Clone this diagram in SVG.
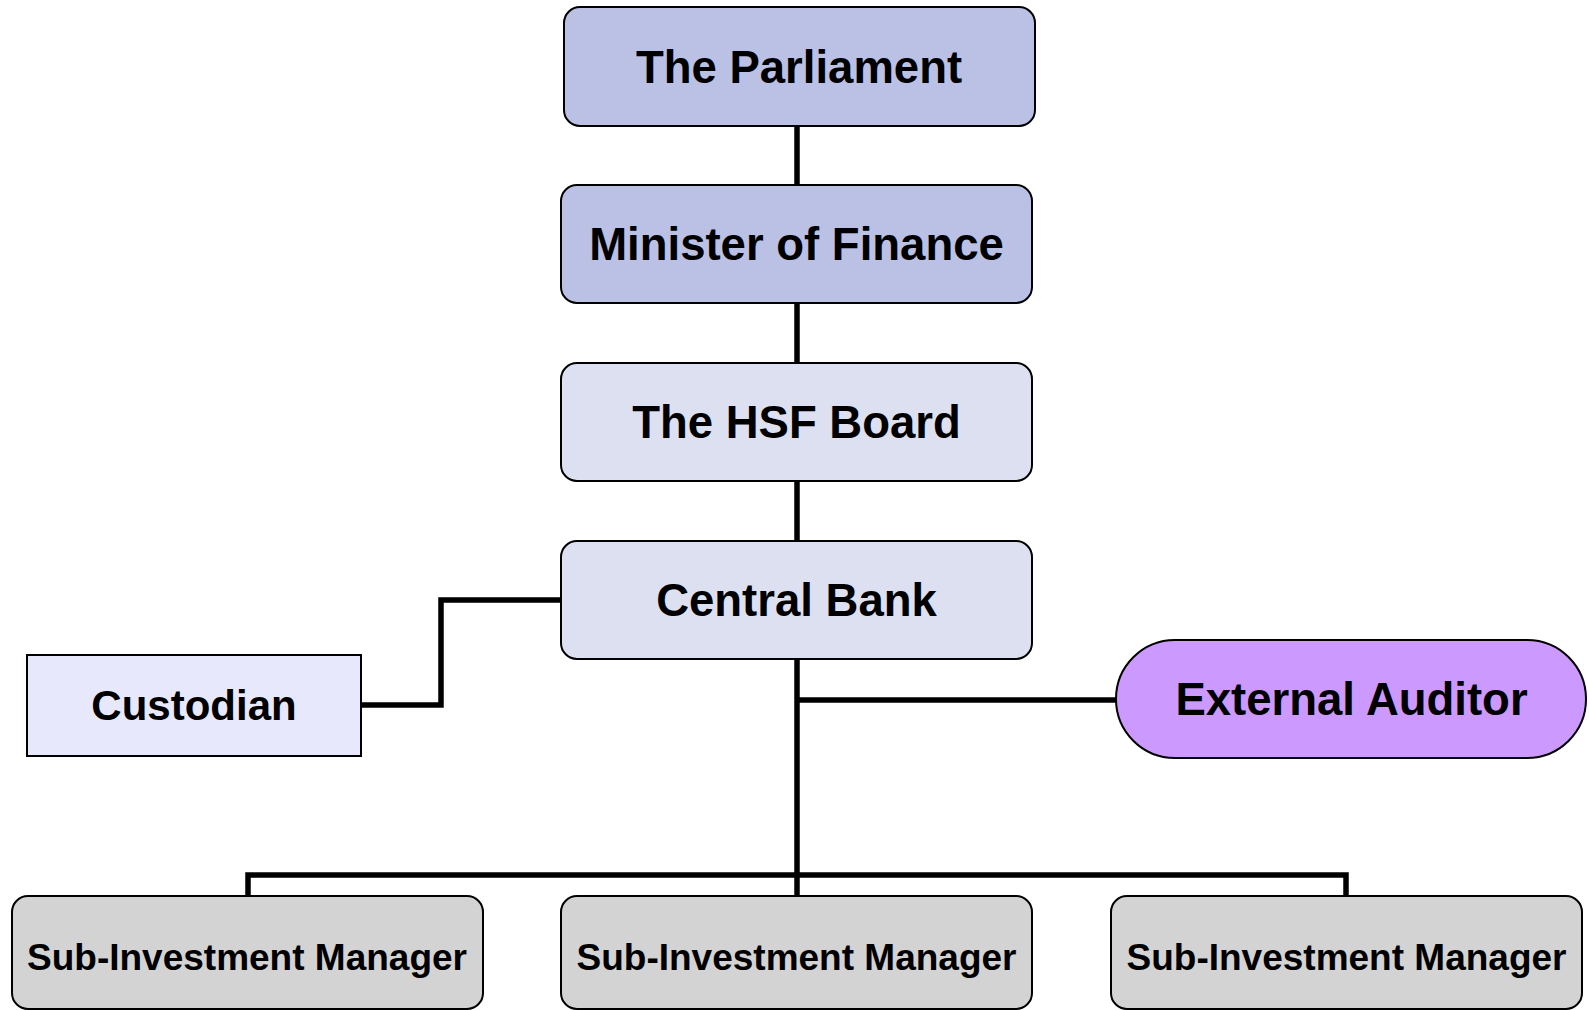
<svg xmlns="http://www.w3.org/2000/svg" width="1589" height="1010" viewBox="0 0 1589 1010">
<style>
.box{stroke:#000;stroke-width:2}
.dark{fill:#bbc1e5}
.light{fill:#dde0f1}
.cust{fill:#e8e8fd}
.aud{fill:#cc99ff}
.sub{fill:#d3d3d3}
.lbl{font-family:"Liberation Sans",Arial,sans-serif;font-weight:bold;fill:#000;text-anchor:middle}
.big{font-size:45.5px}
.mid{font-size:42px}
.sm{font-size:37px}
.conn{fill:none;stroke:#000;stroke-width:5.5;stroke-linejoin:miter;stroke-linecap:butt}
</style>
<rect width="1589" height="1010" fill="#fff"/>
<g id="connectors">
<path class="conn" d="M797 125V186"/>
<path class="conn" d="M797 302V364"/>
<path class="conn" d="M797 480V542"/>
<path class="conn" d="M797 658V897"/>
<path class="conn" d="M797 700H1117"/>
<path class="conn" d="M561 600H441V705H361"/>
<path class="conn" d="M248 897V875H1346V897"/>
</g>
<g id="parliament">
<rect class="box dark" x="564" y="7" width="471" height="119" rx="16"/>
<text class="lbl big" x="799" y="83">The Parliament</text>
</g>
<g id="minister">
<rect class="box dark" x="561" y="185" width="471" height="118" rx="16"/>
<text class="lbl big" x="796.5" y="260">Minister of Finance</text>
</g>
<g id="hsf-board">
<rect class="box light" x="561" y="363" width="471" height="118" rx="16"/>
<text class="lbl big" x="796.5" y="438">The HSF Board</text>
</g>
<g id="central-bank">
<rect class="box light" x="561" y="541" width="471" height="118" rx="16"/>
<text class="lbl big" x="796.5" y="616">Central Bank</text>
</g>
<g id="custodian">
<rect class="box cust" x="27" y="655" width="334" height="101"/>
<text class="lbl mid" x="194" y="720">Custodian</text>
</g>
<g id="external-auditor">
<rect class="box aud" x="1116" y="640" width="470" height="118" rx="59"/>
<text class="lbl big" x="1351.5" y="715">External Auditor</text>
</g>
<g id="sub-manager-1">
<rect class="box sub" x="12" y="896" width="471" height="113" rx="16"/>
<text class="lbl sm" x="247" y="970">Sub-Investment Manager</text>
</g>
<g id="sub-manager-2">
<rect class="box sub" x="561" y="896" width="471" height="113" rx="16"/>
<text class="lbl sm" x="796.5" y="970">Sub-Investment Manager</text>
</g>
<g id="sub-manager-3">
<rect class="box sub" x="1111" y="896" width="471" height="113" rx="16"/>
<text class="lbl sm" x="1346.5" y="970">Sub-Investment Manager</text>
</g>
</svg>
